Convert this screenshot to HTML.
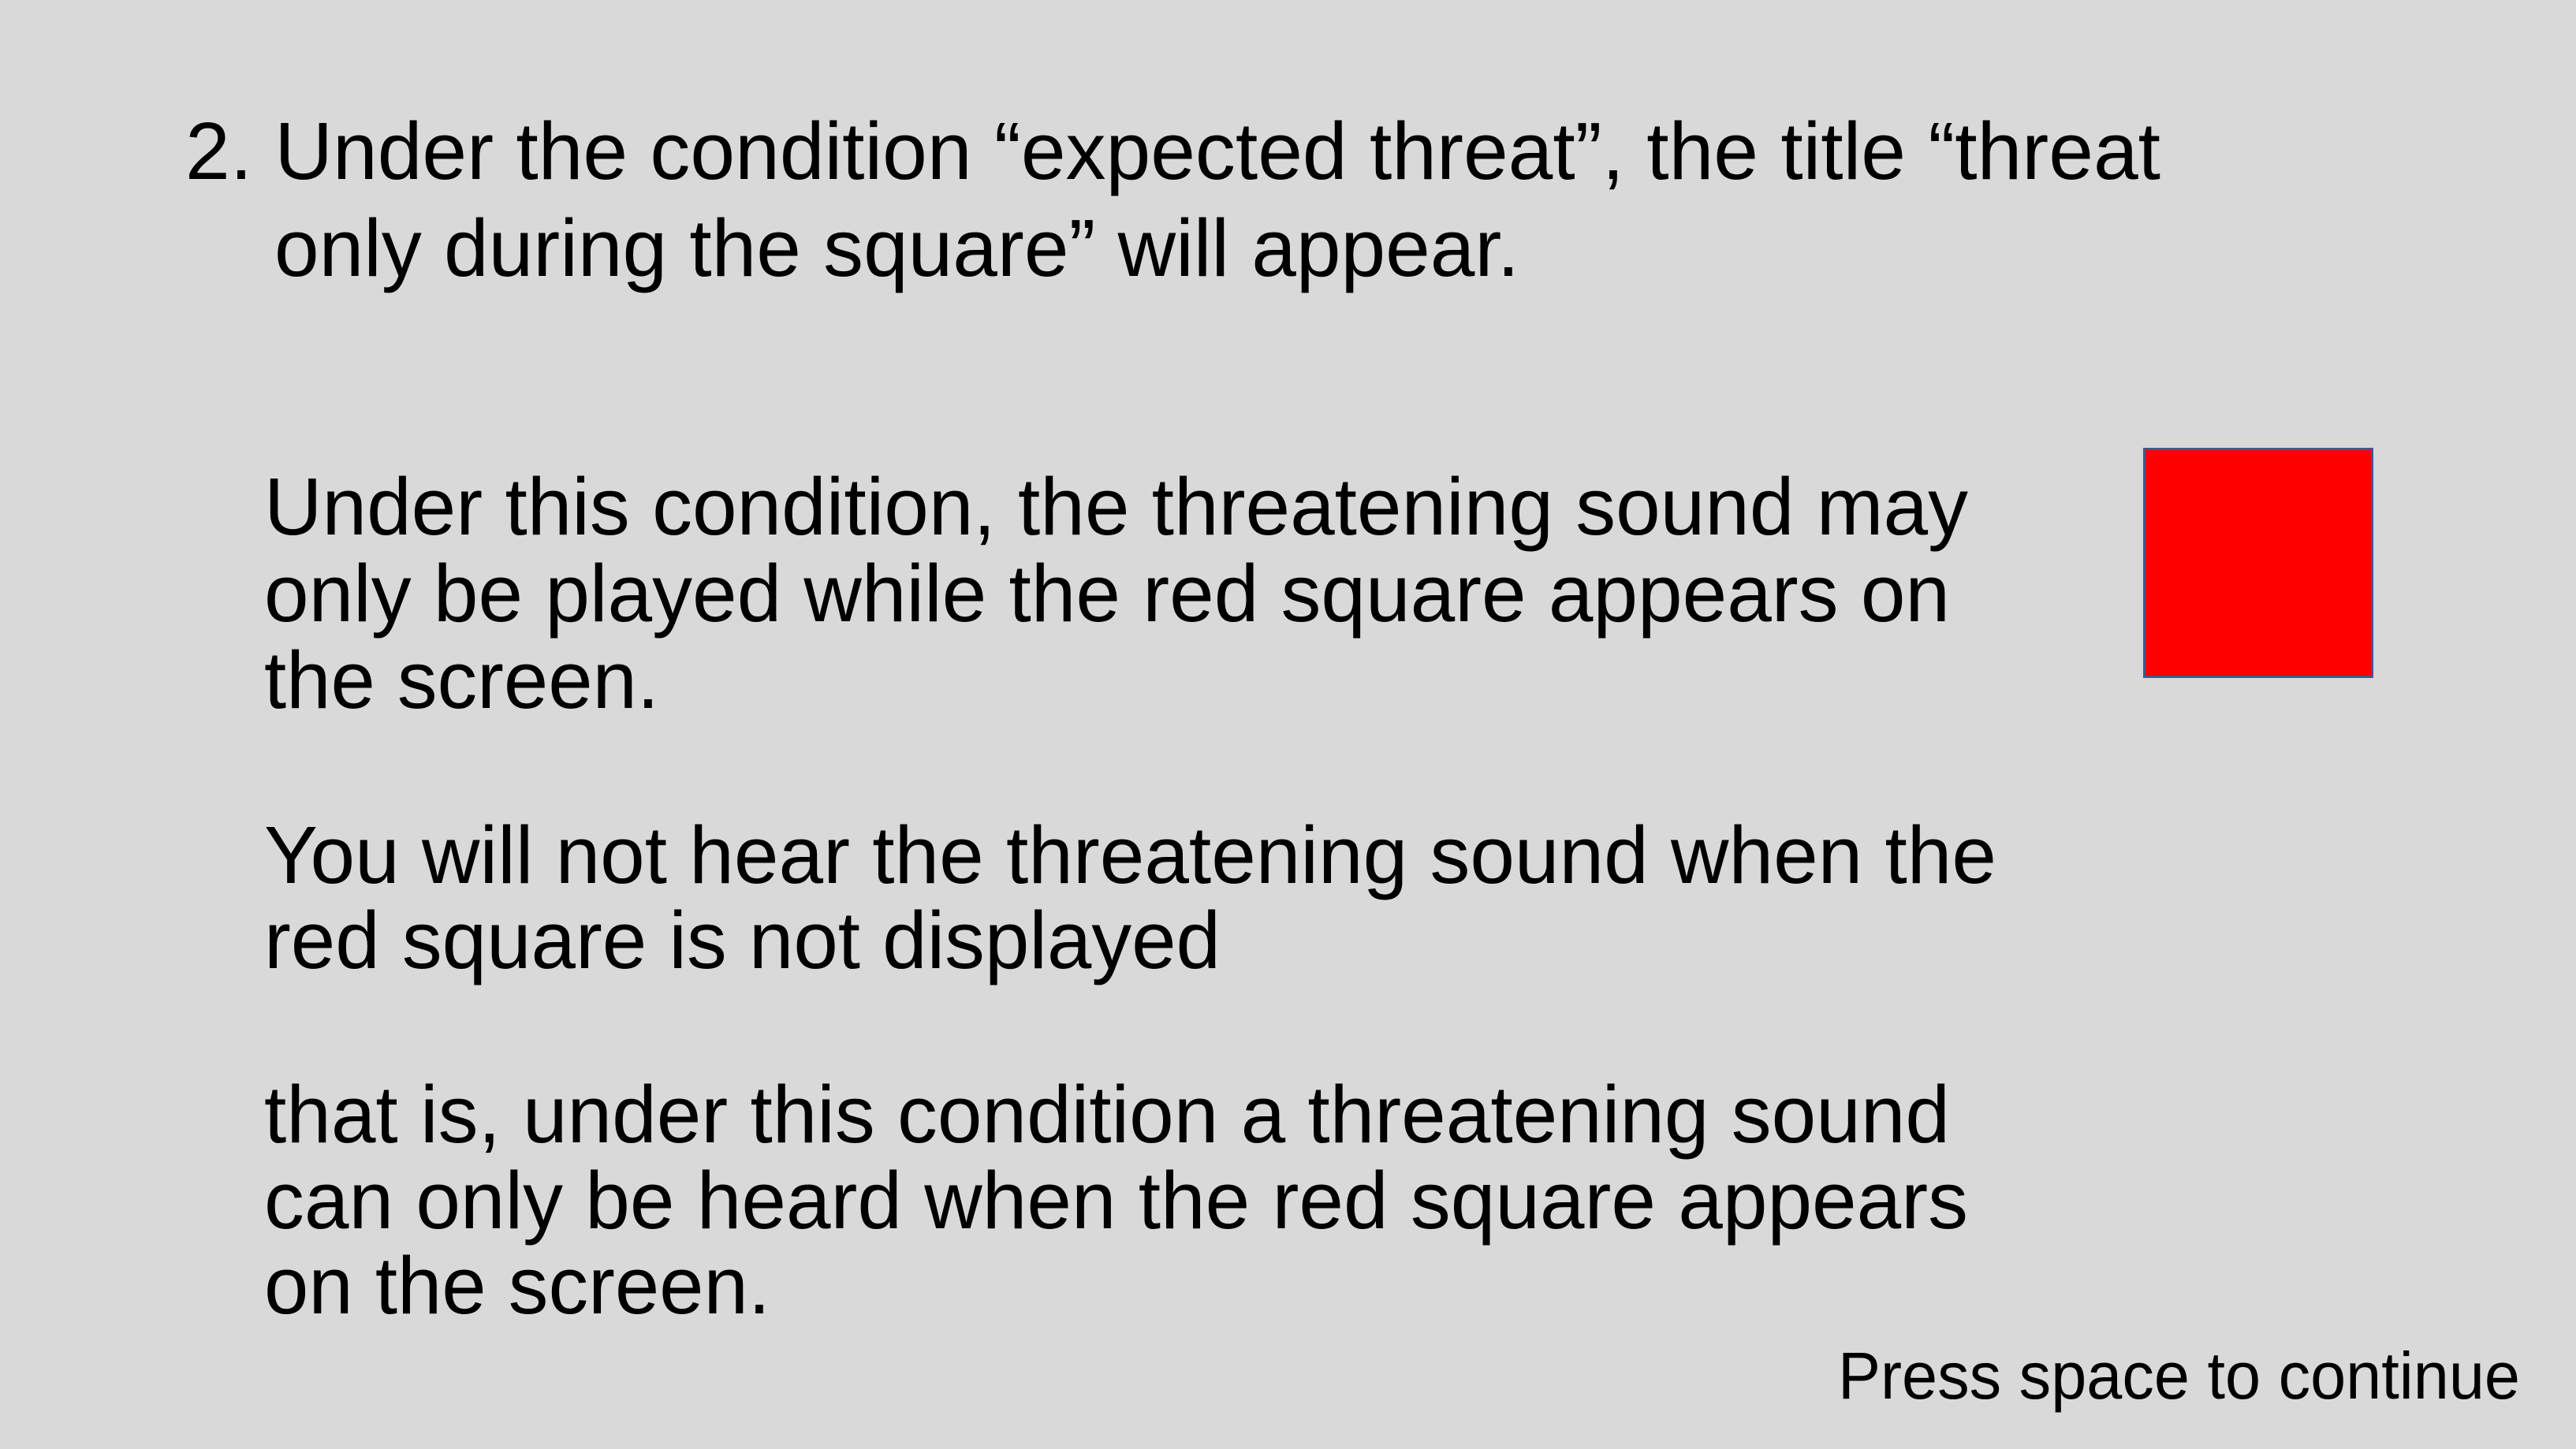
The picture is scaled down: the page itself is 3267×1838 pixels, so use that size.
<!DOCTYPE html>
<html>
<head>
<meta charset="utf-8">
<style>
html,body{margin:0;padding:0;}
body{width:3267px;height:1838px;background:#d9d9d9;position:relative;overflow:hidden;font-family:"Liberation Sans",Arial,sans-serif;color:#000;}
.ln{position:absolute;white-space:nowrap;line-height:1;transform-origin:0 0;}
.h{font-size:103px;}
.b{font-size:103px;}
.p{font-size:84px;}
#red-square{position:absolute;left:2718px;top:568px;width:286px;height:286px;background:#ff0000;border:3px solid #3f5a8c;}
</style>
</head>
<body>
<div class="ln h" data-l="235" data-r="2740" style="left:235px;top:140px;">2. Under the condition “expected threat”, the title “threat</div>
<div class="ln h" data-l="348" data-r="1927" style="left:348px;top:263px;">only during the square” will appear.</div>

<div class="ln b" data-l="335" data-r="2496" style="left:335px;top:591px;">Under this condition, the threatening sound may</div>
<div class="ln b" data-l="335" data-r="2473" style="left:335px;top:701px;">only be played while the red square appears on</div>
<div class="ln b" data-l="335" data-r="836" style="left:335px;top:811px;">the screen.</div>
<div class="ln b" data-l="335" data-r="2532" style="left:335px;top:1033px;">You will not hear the threatening sound when the</div>
<div class="ln b" data-l="335" data-r="1548" style="left:335px;top:1141px;">red square is not displayed</div>
<div class="ln b" data-l="335" data-r="2473" style="left:335px;top:1362px;">that is, under this condition a threatening sound</div>
<div class="ln b" data-l="335" data-r="2496" style="left:335px;top:1471px;">can only be heard when the red square appears</div>
<div class="ln b" data-l="335" data-r="977" style="left:335px;top:1579px;">on the screen.</div>

<div id="red-square"></div>

<div class="ln p" data-l="2331" data-r="3196" style="left:2331px;top:1703px;">Press space to continue</div>

<script>
document.querySelectorAll('.ln').forEach(function(el){
  var l=parseFloat(el.getAttribute('data-l')), r=parseFloat(el.getAttribute('data-r'));
  var w=el.getBoundingClientRect().width;
  if(w>0){ var s=(r-l)/w; if(s>0.8&&s<1.2){ el.style.transform='scaleX('+s+')'; } }
});
</script>
</body>
</html>
